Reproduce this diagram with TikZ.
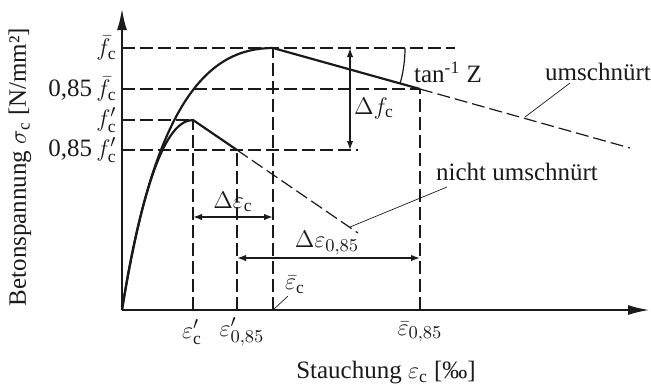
\documentclass[tikz,border=0pt]{standalone}
\usepackage{fontspec}
\setmainfont{Liberation Serif}
\usepackage{amsmath}
\usetikzlibrary{arrows.meta}
\definecolor{ink}{HTML}{1A1A1A}

\begin{document}
\begin{tikzpicture}[x=0.5pt,y=0.5pt,
  axis/.style={ink,line width=1.2pt,-{Latex[length=11pt,width=5pt]}},
  curve/.style={ink,line width=1.1pt},
  guide/.style={ink,line width=0.6pt,dash pattern=on 6.5pt off 2.5pt},
  leader/.style={ink,line width=0.35pt},
  dimline/.style={ink,line width=0.7pt,{Latex[length=4.5pt,width=3.2pt]}-{Latex[length=4.5pt,width=3.2pt]}},
  lbl/.style={text=ink,font=\fontsize{12.5}{14}\selectfont,inner sep=1pt},
  ytick/.style={lbl,anchor=east,inner sep=0pt}]
\useasboundingbox (0,0) rectangle (651,388);
% points of the two curves
\coordinate (O) at (122,78);
\coordinate (ytop) at (122,380);
\coordinate (xend) at (650,78);
\coordinate (Pu) at (193,268);
\coordinate (Pu85) at (237,238);
\coordinate (Puend) at (358,155);
\coordinate (Pc) at (273,340);
\coordinate (Pc85) at (420,299);
\coordinate (Pcend) at (630,240);
\coordinate (fcbend) at (455,340);
\coordinate (fcpend) at (358,238);
\coordinate (dfTop) at (350,340);\coordinate (dfBot) at (350,238);
\coordinate (deA) at (193,171);\coordinate (deB) at (273,171);
\coordinate (dgA) at (237,130);\coordinate (dgB) at (420,130);

% guide lines
\draw[guide] (O |- Pc) -- (fcbend);
\draw[guide] (O |- Pc85) -- (Pc85);
\draw[guide] (O |- Pu) -- (Pu);
\draw[guide] (O |- Pu85) -- (fcpend);
\draw[guide] (Pu |- O) -- (Pu);
\draw[guide] (Pu85 |- O) -- (Pu85);
\draw[guide] (Pc |- O) -- (Pc);
\draw[guide] (Pc85 |- O) -- (Pc85);

% curves
\draw[curve] (O) .. controls (155,290) and (210,340) .. (Pc) -- (Pc85);
\draw[guide] (Pc85) -- (Pcend);
\draw[curve] (O) .. controls (142,200) and (165,268) .. (Pu) -- (Pu85);
\draw[guide] (Pu85) -- (Puend);

% axes
\draw[axis] (O) -- (ytop);
\draw[axis] (O) -- (xend);

% dimensions
\draw[dimline] (dfTop) -- (dfBot);
\draw[dimline] (deA) -- (deB);
\draw[dimline] (dgA) -- (dgB);
\draw[curve,line width=0.6pt] (Pc) ++(0:132) arc[start angle=0,end angle=-15.6,radius=132];

% labels
\node[ytick] (lfcb) at (117,340) {$\bar{f}_\mathrm{c}$};
\node[ytick] (lfcb85) at (117,299) {0,85\,$\bar{f}_\mathrm{c}$};
\node[ytick] (lfcp) at (117,268) {$f'_\mathrm{c}$};
\node[ytick] (lfcp85) at (117,238) {0,85\,$f'_\mathrm{c}$};
\node[lbl] (lec) at (192,56) {$\varepsilon'_\mathrm{c}$};
\node[lbl] (le85) at (242,56) {$\varepsilon'_{0{,}85}$};
\node[lbl] (leb85) at (420,56) {$\bar{\varepsilon}_{0{,}85}$};
\node[lbl] (lecb) at (295,103) {$\bar{\varepsilon}_\mathrm{c}$};
\node[lbl] (ldf) at (374,280) {$\Delta f_\mathrm{c}$};
\node[lbl] (lde) at (233,186) {$\Delta\varepsilon_\mathrm{c}$};
\node[lbl] (ldg) at (327,145) {$\Delta\varepsilon_{0{,}85}$};
\node[lbl] (ltan) at (448,316) {tan\textsuperscript{-1} Z};
\node[lbl] (lum) at (598,316) {umschnürt};
\node[lbl] (lnum) at (517,216) {nicht umschnürt};
\node[lbl] (lx) at (386,15) {Stauchung $\varepsilon_\mathrm{c}$ [‰]};
\node[lbl,rotate=90] (ly) at (20,221) {Betonspannung $\sigma_\mathrm{c}$ [N/mm²]};

% leaders
\coordinate (umA) at (570,305);\coordinate (umB) at (525,271);
\coordinate (nuA) at (447,201);\coordinate (nuB) at (350,161);
\coordinate (ecA) at (288,92);
\draw[leader] (umA) -- (umB);
\draw[leader] (nuA) -- (nuB);
\draw[leader] (Pc |- O) -- (ecA);
\end{tikzpicture}
\end{document}
